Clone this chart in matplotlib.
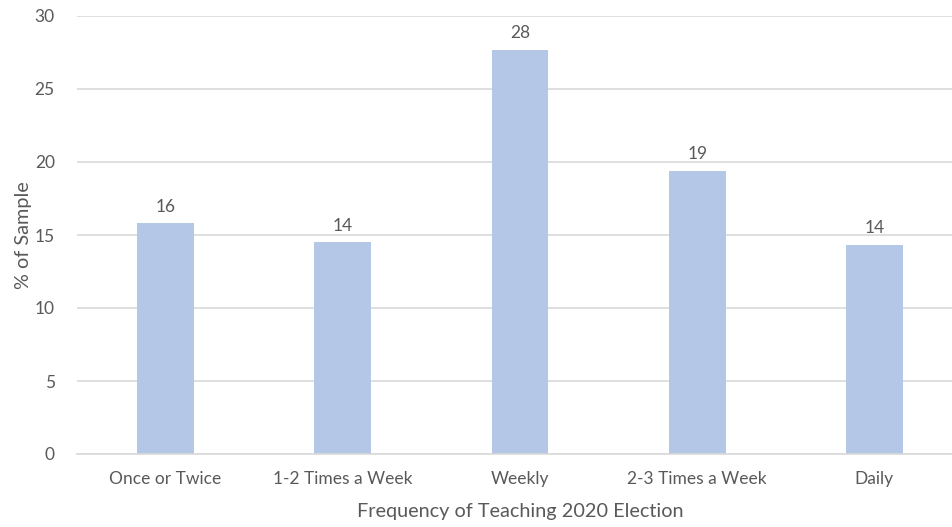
import matplotlib
matplotlib.use('Agg')
import matplotlib.pyplot as plt

categories = ['Once or Twice', '1-2 Times a Week', 'Weekly', '2-3 Times a Week', 'Daily']
pct_sample = [15.8, 14.5, 27.7, 19.4, 14.3]

plt.rcParams['font.family'] = ['Lato', 'DejaVu Sans']
txt = '#595959'

fig = plt.figure(figsize=(9.52, 5.27), dpi=100)
ax = fig.add_axes([77/952, 73/527, 886/952, 438/527])

x = range(len(categories))
ax.bar(x, pct_sample, width=0.32, color='#B4C7E7', zorder=2)
for i, v in enumerate(pct_sample):
    ax.text(i, v + 0.6, '%.0f' % v, ha='center', va='bottom', fontsize=12.5, color=txt)

ax.set_xlim(-0.5, len(categories) - 0.5)
ax.set_ylim(0, 30)
ax.set_yticks(range(0, 31, 5))
ax.set_xticks(list(x))
ax.set_xticklabels(categories)
ax.grid(axis='y', color='#D9D9D9', linewidth=1.2, zorder=0)
for s in ['top', 'right', 'left']:
    ax.spines[s].set_visible(False)
ax.spines['bottom'].set_color('#D9D9D9')
ax.spines['bottom'].set_linewidth(1.2)
ax.tick_params(length=0, labelsize=12.5, colors=txt, pad=12)
ax.tick_params(axis='y', pad=16)
ax.set_xlabel('Frequency of Teaching 2020 Election', fontsize=14.3, color=txt, labelpad=12)
ax.set_ylabel('% of Sample', fontsize=14.3, color=txt, labelpad=2)

fig.savefig('out.png', dpi=100)
